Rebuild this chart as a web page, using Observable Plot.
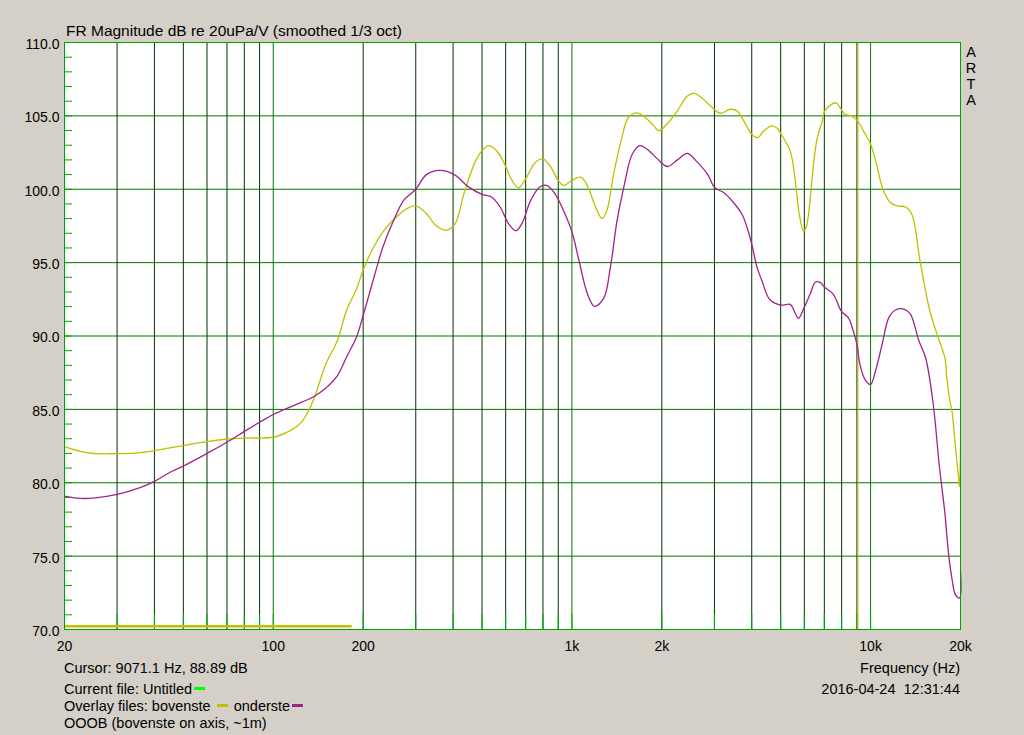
<!DOCTYPE html>
<html><head><meta charset="utf-8">
<script src="https://cdn.jsdelivr.net/npm/d3@7"></script>
<script src="https://cdn.jsdelivr.net/npm/@observablehq/plot@0.6"></script>
<style>
body{margin:0;background:#D4D0C8;}
#wrap{position:relative;width:1024px;height:735px;overflow:hidden;font-family:"Liberation Sans",Arial,sans-serif;font-size:14.5px;color:#000;}
#wrap svg{position:absolute;left:0;top:0;}
.t{position:absolute;white-space:pre;line-height:14.5px;}
.dash{display:inline-block;width:11px;height:3px;vertical-align:4px;}
</style></head><body><div id="wrap"></div>
<script>
// ---- data ----
const bovensteHz = [20,24,30,36,40,50,60,70,80,100,114,124,133,140,150,164,176,190,200,216,233,252,281,300,325,349,378,405,435,471,500,527,565,600,630,663,700,755,800,850,900,940,1000,1070,1125,1200,1262,1310,1380,1470,1545,1650,1760,1880,1955,2090,2255,2435,2560,2730,2910,3140,3390,3570,3760,4000,4190,4390,4660,4870,5000,5380,5580,5770,5960,6080,6200,6390,6600,6890,7050,7420,7670,7900,8200,8620,9040,9530,10000,10500,11000,11640,12250,13060,13740,14630,15780,16830,17730,17990,18430,18750,19230,19650,19850,20000];
const bovensteDb = [82.46,82.03,81.98,82.05,82.19,82.53,82.80,82.98,83.05,83.1,83.55,84.1,85.15,86.3,88.1,89.7,91.75,93.2,94.5,96.0,97.1,97.9,98.7,98.86,98.36,97.56,97.2,97.6,99.7,101.73,102.63,102.97,102.52,101.55,100.6,100.1,100.71,101.84,102.07,101.5,100.6,100.26,100.6,100.82,100.26,98.79,98.0,98.57,101.05,103.53,104.89,105.2,104.89,104.32,103.98,104.48,105.34,106.35,106.53,106.2,105.68,105.18,105.45,105.34,104.66,103.75,103.52,103.98,104.32,104.16,103.8,102.61,100.8,98.3,97.16,97.39,98.3,101.02,103.3,104.66,105.39,105.8,105.89,105.57,105.11,105.0,104.66,103.86,103.07,101.59,100.0,99.1,98.86,98.8,98.3,95.16,91.73,89.9,88.52,87.2,85.57,84.82,82.44,80.63,79.73,82.4];
const ondersteHz = [20,22,25,30,36,40,45,50,60,70,80,90,100,117,137,150,164,176,190,200,216,233,252,274,300,325,360,405,449,500,538,575,613,650,680,728,780,822,877,936,1000,1055,1125,1190,1278,1346,1417,1492,1593,1690,1810,1933,2090,2255,2435,2600,2840,3010,3220,3440,3710,3860,4000,4170,4330,4590,5000,5380,5550,5730,5990,6270,6540,6800,7000,7500,8000,8420,8750,9000,9210,9570,10000,10380,10930,11510,12120,12990,13610,14520,15280,16160,17000,17740,18230,18750,19230,19870,20000];
const ondersteDb = [79.09,78.95,78.95,79.2,79.68,80.09,80.7,81.14,82.0,82.76,83.5,84.12,84.65,85.26,85.88,86.45,87.3,88.57,89.93,91.4,93.8,96.08,97.8,99.27,100.0,100.98,101.28,100.98,100.18,99.65,99.47,98.79,97.66,97.17,97.66,99.24,100.15,100.26,99.7,98.57,97.1,95.18,92.92,92.02,92.58,94.73,97.89,100.15,102.4,102.97,102.63,102.07,101.55,102.0,102.45,101.95,101.05,100.1,99.78,99.2,98.3,97.39,96.25,94.66,93.75,92.5,92.11,92.16,91.7,91.2,91.93,92.84,93.68,93.64,93.34,92.84,91.66,91.25,90.34,89.43,88.07,87.05,86.7,87.6,89.43,91.25,91.77,91.82,91.48,89.66,88.52,85.57,81.09,77.9,75.2,73.39,72.38,72.15,74.0];

const xTicks = [20,50,100,200,500,1000,2000,5000,10000,20000];
const xTickLabels = ["20","50","100","200","500","1k","2k","5k","10k","20k"];
const yTicks = [70,75,80,85,90,95,100,105,110];
const yGridDb = [75,80,85,90,95,100,105];
const yMinorDb = [71,72,73,74,75,76,77,78,79,80,81,82,83,84,85,86,87,88,89,90,91,92,93,94,95,96,97,98,99,100,101,102,103,104,105,106,107,108,109];
const gridHz = [30,40,50,60,70,80,90,200,300,400,500,600,700,800,900,2000,3000,4000,5000,6000,7000,8000,9000];
const decadeHz = [100,1000,10000];
const cursorHz = 9071.1;
const cursorDb = 88.89;
const markerBar = [{db: 70.22, from: 20, to: 183.8}];

const YELLOW = "#C0C000";
const MAGENTA = "#A0228A";

const bovenste = bovensteHz.map((hz, i) => ({hz, db: bovensteDb[i]}));
const onderste = ondersteHz.map((hz, i) => ({hz, db: ondersteDb[i]}));
const tickLabel = new Map(xTicks.map((d, i) => [d, xTickLabels[i]]));

const chart = Plot.plot({
  width: 1024, height: 735,
  marginLeft: 64, marginRight: 64, marginTop: 42, marginBottom: 106,
  style: {background: "transparent", fontFamily: "'Liberation Sans', Arial, sans-serif", fontSize: "14px", color: "#000", overflow: "visible"},
  x: {type: "log", domain: [20, 20000]},
  y: {domain: [70, 110]},
  marks: [
    Plot.frame({fill: "white", stroke: "none"}),
    Plot.ruleY(yGridDb, {stroke: "#007800"}),
    Plot.ruleX(gridHz, {stroke: "#003400"}),
    Plot.ruleX(decadeHz, {stroke: "#007800"}),
    Plot.ruleX([...gridHz, ...decadeHz], {stroke: "#00B000", insetTop: 572}),
    Plot.ruleY(yMinorDb, {stroke: "#00A000", insetRight: 888}),
    Plot.ruleY(markerBar, {y: "db", x1: "from", x2: "to", stroke: YELLOW, strokeWidth: 2.5}),
    Plot.ruleX([cursorHz], {stroke: YELLOW}),
    Plot.line(bovenste, {x: "hz", y: "db", stroke: YELLOW, strokeWidth: 1.3, curve: "catmull-rom"}),
    Plot.line(onderste, {x: "hz", y: "db", stroke: MAGENTA, strokeWidth: 1.3, curve: "catmull-rom"}),
    Plot.frame({stroke: "#00A000"}),
    Plot.axisX({ticks: xTicks, tickFormat: d => tickLabel.get(d), tickSize: 0, tickPadding: 12, label: null, fontSize: 14}),
    Plot.axisY({ticks: yTicks, tickFormat: d => d.toFixed(1), tickSize: 0, tickPadding: 5, dy: 2, label: null, fontSize: 14})
  ]
});
const wrap = document.getElementById("wrap");
wrap.appendChild(chart);

function addText(html, style) {
  const d = document.createElement("div");
  d.className = "t";
  d.innerHTML = html;
  Object.assign(d.style, style);
  wrap.appendChild(d);
}
addText("FR Magnitude dB re 20uPa/V (smoothed 1/3 oct)", {left: "66px", top: "23px", fontSize: "15.5px", lineHeight: "15.5px"});
addText(`Cursor: ${cursorHz.toFixed(1)} Hz, ${cursorDb.toFixed(2)} dB`, {left: "64px", top: "661px"});
addText(`Current file: Untitled<span class="dash" style="background:#00FF00;margin-left:2px"></span>`, {left: "64px", top: "682px"});
addText(`Overlay files: bovenste <span class="dash" style="background:${YELLOW};margin-left:2px;margin-right:6px"></span>onderste<span class="dash" style="background:${MAGENTA};margin-left:2px"></span>`, {left: "64px", top: "699px"});
addText("OOOB (bovenste on axis, ~1m)", {left: "64px", top: "716px"});
addText("Frequency (Hz)", {right: "64px", top: "661px"});
addText("2016-04-24  12:31:44", {right: "64px", top: "682px"});
addText("A<br>R<br>T<br>A", {left: "961px", top: "43.5px", width: "20px", textAlign: "center", lineHeight: "16px"});
</script>
</body></html>
